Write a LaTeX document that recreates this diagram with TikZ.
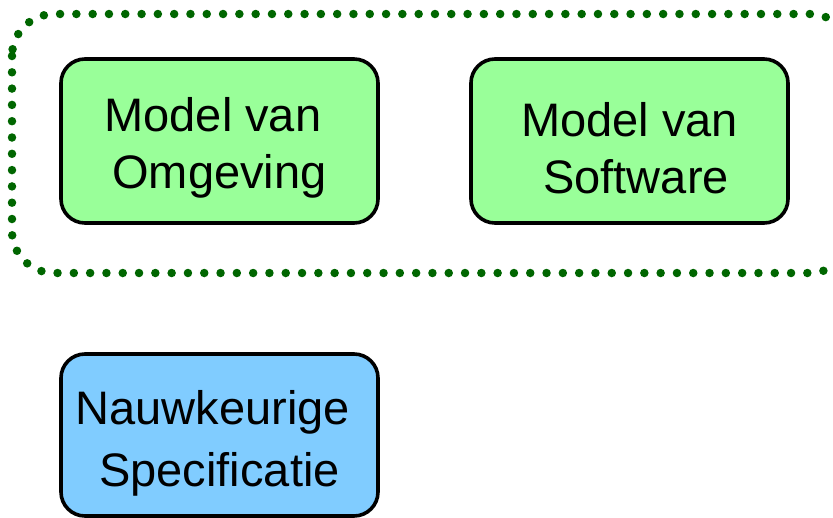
\documentclass[tikz,border=0pt]{standalone}
\usepackage{fontspec}
\setmainfont{Liberation Sans}
\definecolor{boxgreen}{HTML}{99FF99}
\definecolor{boxblue}{HTML}{80CCFF}
\definecolor{framegreen}{HTML}{006600}
\begin{document}
\begin{tikzpicture}[x=1pt,y=-1pt,
  modelbox/.style={draw=black,line width=3.6pt,rounded corners=24pt,
    minimum width=317pt,minimum height=164pt,inner sep=0pt},
  boxtext/.style={align=center,inner sep=0pt,font=\fontsize{47}{57}\selectfont},
  groupframe/.style={draw=framegreen,line width=8.5pt,line cap=round,
    dash pattern=on 0pt off 16.3pt,rounded corners=42pt}]
  \useasboundingbox (0,0) rectangle (833,517);
  % dotted grouping frame around both models (runs off the right edge)
  \draw[groupframe] (12,14) rectangle (852,273);
  % the two models
  \node[modelbox,fill=boxgreen] (omgevingbox) at (219.5,141) {};
  \node[boxtext] (omgeving) at (219.5,148) {Model van\kern0.28em\\Omgeving};
  \node[modelbox,fill=boxgreen] (softwarebox) at (629.5,141) {};
  \node[boxtext] (software) at (629.5,148) {Model van\\\kern0.28em Software};
  % specification
  \node[modelbox,fill=boxblue,minimum height=162pt] (specbox) at (219.5,435) {};
  \node[boxtext,font=\fontsize{47}{62}\selectfont] (spec) at (219.5,443)
    {Nauwkeurige\kern0.28em\\Specificatie};
\end{tikzpicture}
\end{document}
